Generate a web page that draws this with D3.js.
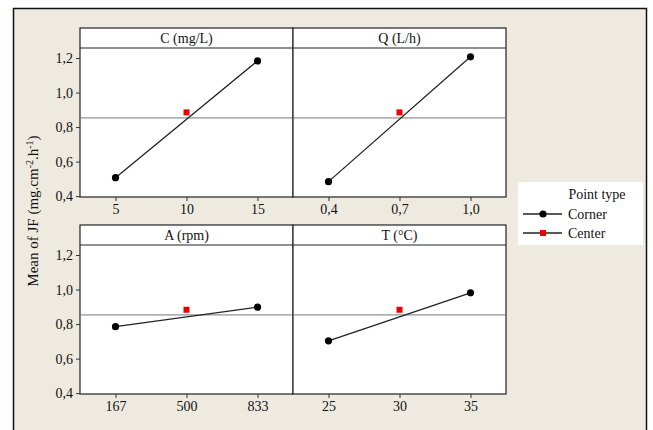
<!DOCTYPE html>
<html>
<head>
  <meta charset="utf-8">
  <style>
    body { margin: 0; padding: 0; background: white; }
    svg text { font-family: "Liberation Serif", "Times New Roman", serif; fill: #111; }
    .axis path, .axis line { stroke: #333; }
    .axis text { font-size: 14px; fill: #111; }
  </style>
</head>
<body>
<div id="chart"></div>
<script src="https://d3js.org/d3.v7.min.js"></script>
<script>

// ####### DATA #######
var factors = ["C (mg/L)", "Q (L/h)", "A (rpm)", "T (°C)"]
var lowLevels = [5, 0.4, 167, 25]
var centerLevels = [10, 0.7, 500, 30]
var highLevels = [15, 1.0, 833, 35]
var lowMeans = [0.507, 0.484, 0.785, 0.703]
var centerMeans = [0.885, 0.885, 0.883, 0.883]
var highMeans = [1.183, 1.207, 0.898, 0.981]
var xTickLabels = [["5", "10", "15"], ["0,4", "0,7", "1,0"], ["167", "500", "833"], ["25", "30", "35"]]
var yTicks = [0.4, 0.6, 0.8, 1.0, 1.2]
var grandMean = 0.853
var legendLabels = ["Corner", "Center"]

// ####### SIZE #######
var width = 653, height = 430

var svg = d3.select("#chart").append("svg")
    .attr("width", width)
    .attr("height", height)

// outer frame
svg.append("rect")
    .attr("x", 13.5).attr("y", 8.5)
    .attr("width", 633).attr("height", 430)
    .attr("fill", "#eeeae0")
    .attr("stroke", "#111")
    .attr("stroke-width", 1.5)

var colX = [80, 293], panelW = 213
var rowY = [28, 225], stripH = 20, panelH = 149

var fmt = d3.formatLocale({decimal: ",", thousands: ".", grouping: [3], currency: ["", ""]}).format(".1f")

factors.forEach(function (name, i) {
  var px = colX[i % 2], py = rowY[Math.floor(i / 2)]
  var lo = lowLevels[i], hi = highLevels[i], pad = (hi - lo) * 0.25

  var x = d3.scaleLinear().domain([lo - pad, hi + pad]).range([px, px + panelW])
  var y = d3.scaleLinear().domain([0.395, 1.258]).range([py + stripH + panelH, py + stripH])

  // panel + strip
  svg.append("rect")
      .attr("x", px).attr("y", py).attr("width", panelW).attr("height", stripH + panelH)
      .attr("fill", "white").attr("stroke", "#222").attr("stroke-width", 1.2)
  svg.append("line")
      .attr("x1", px).attr("x2", px + panelW)
      .attr("y1", py + stripH).attr("y2", py + stripH)
      .attr("stroke", "#222").attr("stroke-width", 1.2)
  svg.append("text")
      .attr("x", px + panelW / 2).attr("y", py + 15)
      .attr("text-anchor", "middle")
      .style("font-size", "14px")
      .text(name)

  // grand mean reference
  svg.append("line")
      .attr("x1", px).attr("x2", px + panelW)
      .attr("y1", y(grandMean)).attr("y2", y(grandMean))
      .attr("stroke", "#777").attr("stroke-width", 1)

  // x axis
  var xAxis = svg.append("g").attr("class", "axis")
      .attr("transform", "translate(0," + (py + stripH + panelH) + ")")
      .call(d3.axisBottom(x)
        .tickValues([lo, centerLevels[i], hi])
        .tickSize(4).tickPadding(3).tickSizeOuter(0)
        .tickFormat(function (d, k) { return xTickLabels[i][k] }))
  xAxis.select(".domain").remove()

  // y axis on left column only
  if (i % 2 === 0) {
    var yAxis = svg.append("g").attr("class", "axis")
        .attr("transform", "translate(" + px + ",0)")
        .call(d3.axisLeft(y).tickValues(yTicks).tickSize(4).tickPadding(3).tickFormat(fmt))
    yAxis.select(".domain").remove()
  }

  // corner line + points
  svg.append("line")
      .attr("x1", x(lo)).attr("y1", y(lowMeans[i]))
      .attr("x2", x(hi)).attr("y2", y(highMeans[i]))
      .attr("stroke", "#222").attr("stroke-width", 1.3)
  svg.selectAll(null)
      .data([[lo, lowMeans[i]], [hi, highMeans[i]]])
      .enter().append("circle")
      .attr("cx", function (d) { return x(d[0]) })
      .attr("cy", function (d) { return y(d[1]) })
      .attr("r", 3.6)
      .attr("fill", "#000")

  // center point
  svg.append("rect")
      .attr("x", x(centerLevels[i]) - 3).attr("y", y(centerMeans[i]) - 3)
      .attr("width", 6).attr("height", 6)
      .attr("fill", "#ee0000")
})

// y label
svg.append("text")
    .attr("transform", "translate(38,211) rotate(-90)")
    .attr("text-anchor", "middle")
    .style("font-size", "15px")
    .html('Mean of JF (mg.cm<tspan dy="-5" font-size="10">-2</tspan><tspan dy="5">.h</tspan><tspan dy="-5" font-size="10">-1</tspan><tspan dy="5">)</tspan>')

// legend
var legend = svg.append("g")
legend.append("rect")
    .attr("x", 518).attr("y", 182).attr("width", 125).attr("height", 63)
    .attr("fill", "white")
legend.append("text")
    .attr("x", 597).attr("y", 199)
    .attr("text-anchor", "middle")
    .style("font-size", "14px")
    .text("Point type")

legendLabels.forEach(function (lab, k) {
  var ly = 214 + k * 19
  legend.append("line")
      .attr("x1", 523).attr("x2", 562).attr("y1", ly).attr("y2", ly)
      .attr("stroke", "#222").attr("stroke-width", 1.3)
  if (k === 0) {
    legend.append("circle").attr("cx", 543).attr("cy", ly).attr("r", 3.6).attr("fill", "#000")
  } else {
    legend.append("rect").attr("x", 540).attr("y", ly - 3).attr("width", 6).attr("height", 6).attr("fill", "#ee0000")
  }
  legend.append("text")
      .attr("x", 568).attr("y", ly + 5)
      .style("font-size", "14px")
      .text(lab)
})

</script>
</body>
</html>
